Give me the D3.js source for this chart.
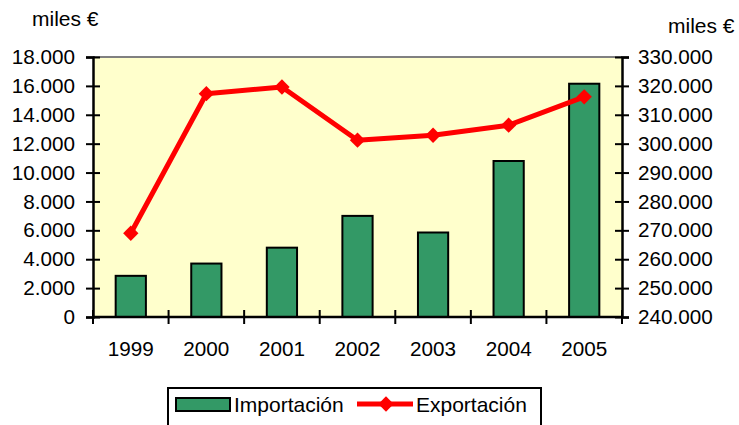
<!DOCTYPE html>
<html>
<head>
<meta charset="utf-8">
<script src="https://cdn.jsdelivr.net/npm/d3@7"></script>
<style>
    body { margin: 0; background: #fff; }
    text { font-family: Arial, "Liberation Sans", sans-serif; fill: #000; }
</style>
</head>
<body>
<div id="chart"></div>
<script>
const years = ['1999', '2000', '2001', '2002', '2003', '2004', '2005'];
const importacion = [2850, 3700, 4800, 7000, 5850, 10800, 16150];
const exportacion = [269000, 317300, 319600, 301200, 302900, 306400, 316200];
const leftTicks = [0, 2000, 4000, 6000, 8000, 10000, 12000, 14000, 16000, 18000];
const rightTicks = [240000, 250000, 260000, 270000, 280000, 290000, 300000, 310000, 320000, 330000];

const width = 739;
const height = 425;
const plot = { left: 93, right: 622, top: 57, bottom: 317 };
const fontSize = 20.7;

const esFormat = d3.formatLocale({ decimal: ",", thousands: ".", grouping: [3], currency: ["", "€"] }).format(",");

const svg = d3.select("#chart")
    .append("svg")
    .attr("width", width)
    .attr("height", height);

const x = d3.scaleBand()
    .domain(years)
    .range([plot.left, plot.right])
    .paddingInner(0.6)
    .paddingOuter(0.3);

// plain band scale for the tick positions between categories
const xStep = d3.scaleBand().domain(years).range([plot.left, plot.right]);

const yLeft = d3.scaleLinear().domain([0, 18000]).range([plot.bottom, plot.top]);
const yRight = d3.scaleLinear().domain([240000, 330000]).range([plot.bottom, plot.top]);

// plot background
svg.append("rect")
    .attr("x", plot.left)
    .attr("y", plot.top)
    .attr("width", plot.right - plot.left)
    .attr("height", plot.bottom - plot.top)
    .attr("fill", "#FFFFCC");

svg.append("line")
    .attr("x1", plot.left).attr("x2", plot.right)
    .attr("y1", plot.top).attr("y2", plot.top)
    .attr("stroke", "#808080")
    .attr("stroke-width", 2);

// bars
svg.selectAll(".bar")
    .data(importacion)
    .enter().append("rect")
    .attr("class", "bar")
    .attr("x", (d, i) => x(years[i]))
    .attr("y", d => yLeft(d))
    .attr("width", x.bandwidth())
    .attr("height", d => yLeft(0) - yLeft(d))
    .attr("fill", "#339966")
    .attr("stroke", "#000")
    .attr("stroke-width", 2);

// left axis
const leftAxis = svg.append("g")
    .attr("transform", `translate(${plot.left},0)`)
    .call(d3.axisLeft(yLeft).tickValues(leftTicks).tickFormat(esFormat).tickSize(7).tickPadding(11));

// right axis
const rightAxis = svg.append("g")
    .attr("transform", `translate(${plot.right},0)`)
    .call(d3.axisRight(yRight).tickValues(rightTicks).tickFormat(esFormat).tickSize(7).tickPadding(9));

// bottom axis with ticks between categories
const xTicks = years.map(y => xStep(y)).concat([plot.right]);
const bottomAxis = svg.append("g")
    .attr("transform", `translate(0,${plot.bottom})`);
bottomAxis.append("line")
    .attr("x1", plot.left).attr("x2", plot.right)
    .attr("stroke", "#000").attr("stroke-width", 2.5);
bottomAxis.selectAll(".xTick")
    .data(xTicks)
    .enter().append("line")
    .attr("class", "xTick")
    .attr("x1", d => d).attr("x2", d => d)
    .attr("y1", -7).attr("y2", 7)
    .attr("stroke", "#000").attr("stroke-width", 2);
bottomAxis.selectAll(".xLabel")
    .data(years)
    .enter().append("text")
    .attr("class", "xLabel")
    .attr("x", d => xStep(d) + xStep.bandwidth() / 2)
    .attr("y", 39)
    .attr("text-anchor", "middle")
    .style("font-size", fontSize + "px")
    .text(String);

[leftAxis, rightAxis].forEach(axis => {
    axis.select(".domain").attr("stroke", "#000").attr("stroke-width", 2.5);
    axis.selectAll(".tick line").attr("x1", -7).attr("x2", 7).attr("stroke", "#000").attr("stroke-width", 2);
    axis.selectAll(".tick text").style("font-size", fontSize + "px").attr("font-family", null);
});

// line series
const line = d3.line()
    .x((d, i) => x(years[i]) + x.bandwidth() / 2)
    .y(d => yRight(d));

svg.append("path")
    .datum(exportacion)
    .attr("d", line)
    .attr("fill", "none")
    .attr("stroke", "#FF0000")
    .attr("stroke-width", 5)
    .attr("stroke-linejoin", "round");

const diamond = d3.symbol().type(d3.symbolDiamond2).size(150);

svg.selectAll(".marker")
    .data(exportacion)
    .enter().append("path")
    .attr("class", "marker")
    .attr("d", diamond)
    .attr("transform", (d, i) => `translate(${x(years[i]) + x.bandwidth() / 2},${yRight(d)})`)
    .attr("fill", "#FF0000");

// unit labels
svg.append("text")
    .attr("x", 32).attr("y", 26)
    .style("font-size", "21px")
    .text("miles €");

svg.append("text")
    .attr("x", 668).attr("y", 33)
    .style("font-size", "21px")
    .text("miles €");

// legend
const legend = svg.append("g");
legend.append("rect")
    .attr("x", 168).attr("y", 388)
    .attr("width", 373).attr("height", 45)
    .attr("fill", "#fff")
    .attr("stroke", "#000")
    .attr("stroke-width", 2);
legend.append("rect")
    .attr("x", 176).attr("y", 398)
    .attr("width", 54).attr("height", 13)
    .attr("fill", "#339966")
    .attr("stroke", "#000")
    .attr("stroke-width", 2);
legend.append("text")
    .attr("x", 234).attr("y", 412)
    .style("font-size", "21px")
    .text("Importación");
legend.append("line")
    .attr("x1", 357).attr("x2", 413)
    .attr("y1", 404).attr("y2", 404)
    .attr("stroke", "#FF0000")
    .attr("stroke-width", 5);
legend.append("path")
    .attr("d", diamond)
    .attr("transform", "translate(386,404)")
    .attr("fill", "#FF0000");
legend.append("text")
    .attr("x", 416).attr("y", 412)
    .style("font-size", "21px")
    .text("Exportación");
</script>
</body>
</html>
